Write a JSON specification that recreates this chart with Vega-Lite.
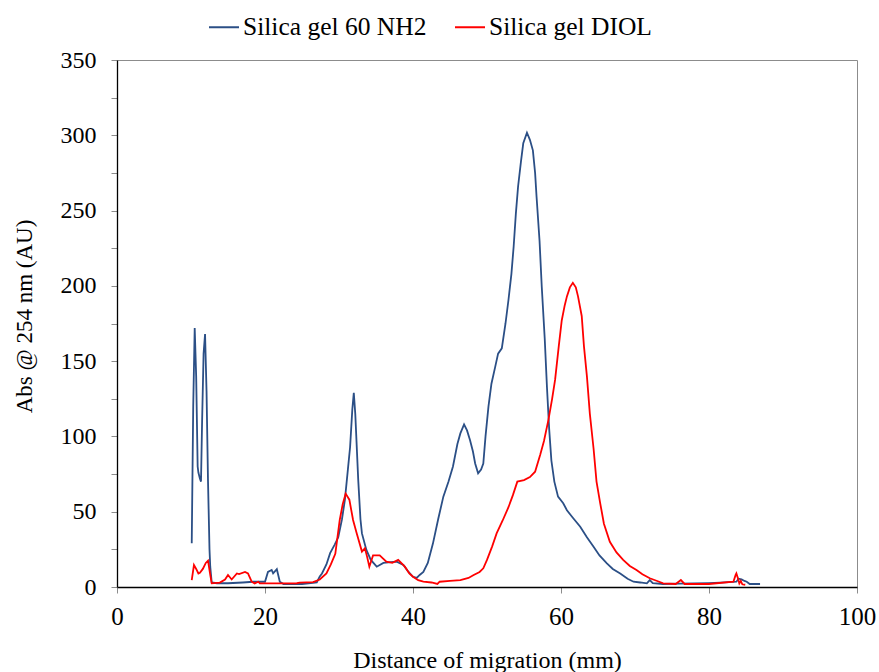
{
  "$schema": "https://vega.github.io/schema/vega-lite/v6.json",
  "autosize": {"type": "none"},
  "padding": {"left": 117, "top": 60, "right": 22, "bottom": 85},
  "width": 740,
  "height": 527,
  "background": "white",
  "config": {
    "view": {"stroke": "#8c8c8c", "strokeWidth": 1},
    "font": "Times New Roman, Liberation Serif, serif"
  },
  "datasets": {
    "nh2": [
      {"x":10.1,"y":29},{"x":10.3,"y":120},{"x":10.5,"y":172},{"x":10.7,"y":140},{"x":10.9,"y":80},{"x":11.0,"y":76},{"x":11.2,"y":72},{"x":11.35,"y":70},{"x":11.5,"y":110},{"x":11.7,"y":155},{"x":11.9,"y":168},{"x":12.1,"y":130},{"x":12.3,"y":70},{"x":12.5,"y":25},{"x":12.6,"y":13.5},{"x":12.8,"y":3},{"x":13.5,"y":2.5},{"x":15,"y":2.5},{"x":17,"y":3},{"x":18.4,"y":3.5},{"x":20,"y":3.5},{"x":20.4,"y":10},{"x":20.9,"y":11.3},{"x":21.1,"y":9},{"x":21.6,"y":11.8},{"x":22,"y":3.5},{"x":22.5,"y":2},{"x":25,"y":2},{"x":27,"y":3},{"x":27.4,"y":7},{"x":27.7,"y":9},{"x":28.3,"y":15},{"x":28.8,"y":22.5},{"x":29.4,"y":28},{"x":29.9,"y":33},{"x":30.4,"y":45},{"x":30.8,"y":58},{"x":31.2,"y":78},{"x":31.5,"y":93},{"x":31.8,"y":118},{"x":32.0,"y":129},{"x":32.2,"y":115},{"x":32.6,"y":71},{"x":32.9,"y":45},{"x":33.1,"y":35.6},{"x":33.7,"y":24.6},{"x":34.3,"y":18},{"x":35.1,"y":13.5},{"x":36.0,"y":16},{"x":37,"y":16.5},{"x":37.8,"y":16.8},{"x":38.7,"y":14.6},{"x":39.4,"y":10},{"x":40,"y":6.8},{"x":40.5,"y":6},{"x":40.9,"y":8},{"x":41.4,"y":10},{"x":42.0,"y":16},{"x":42.7,"y":29},{"x":43.4,"y":45},{"x":44.1,"y":60},{"x":44.8,"y":70},{"x":45.4,"y":80},{"x":46.0,"y":95},{"x":46.4,"y":102},{"x":46.9,"y":108},{"x":47.3,"y":104},{"x":47.7,"y":97.6},{"x":48.1,"y":90},{"x":48.4,"y":82},{"x":48.8,"y":75.5},{"x":49.2,"y":78},{"x":49.5,"y":82},{"x":49.8,"y":100},{"x":50.2,"y":120},{"x":50.6,"y":135},{"x":51.1,"y":146},{"x":51.5,"y":155},{"x":52.0,"y":158.5},{"x":52.5,"y":175},{"x":52.9,"y":190.6},{"x":53.3,"y":208},{"x":53.6,"y":226},{"x":53.9,"y":248},{"x":54.2,"y":266},{"x":54.6,"y":283},{"x":54.9,"y":294.7},{"x":55.4,"y":301.7},{"x":55.8,"y":297},{"x":56.2,"y":290},{"x":56.5,"y":275},{"x":56.7,"y":259},{"x":57.1,"y":230},{"x":57.4,"y":199.4},{"x":57.8,"y":165},{"x":58.1,"y":133},{"x":58.4,"y":105},{"x":58.7,"y":84},{"x":59.1,"y":70},{"x":59.6,"y":60},{"x":60.3,"y":55.6},{"x":60.8,"y":51},{"x":61.6,"y":46},{"x":62.6,"y":40},{"x":63.5,"y":33},{"x":64.4,"y":26.8},{"x":65.2,"y":21},{"x":66.2,"y":15.7},{"x":67,"y":12},{"x":68,"y":9},{"x":69,"y":5.5},{"x":69.8,"y":3.5},{"x":70.7,"y":3},{"x":71.6,"y":2.4},{"x":72,"y":4.6},{"x":72.4,"y":2.5},{"x":73.8,"y":2},{"x":76,"y":2.2},{"x":80,"y":2.6},{"x":81.5,"y":2.9},{"x":83.7,"y":3.5},{"x":84.0,"y":5.5},{"x":84.4,"y":5},{"x":84.8,"y":4},{"x":85.1,"y":3.5},{"x":85.5,"y":2},{"x":86.9,"y":2}
    ],
    "diol": [
      {"x":10.1,"y":4.6},{"x":10.4,"y":14.6},{"x":10.7,"y":12},{"x":11.0,"y":9},{"x":11.2,"y":9.5},{"x":11.6,"y":12},{"x":12.0,"y":16},{"x":12.3,"y":17.5},{"x":12.6,"y":8},{"x":12.8,"y":2.4},{"x":13.9,"y":2.9},{"x":14.6,"y":5},{"x":15.0,"y":8},{"x":15.5,"y":5},{"x":16.2,"y":9},{"x":16.5,"y":8.6},{"x":17.3,"y":10},{"x":17.7,"y":9},{"x":18.2,"y":3.5},{"x":18.6,"y":2.4},{"x":19.1,"y":3.5},{"x":19.3,"y":2.4},{"x":22,"y":2.4},{"x":24.3,"y":2.5},{"x":24.7,"y":2.9},{"x":26.5,"y":3.3},{"x":27.4,"y":5},{"x":28.3,"y":9},{"x":28.9,"y":15},{"x":29.5,"y":22},{"x":30.1,"y":44.5},{"x":30.5,"y":55},{"x":30.9,"y":62},{"x":31.4,"y":58},{"x":31.9,"y":44.5},{"x":32.4,"y":35.6},{"x":33.1,"y":23.5},{"x":33.5,"y":25.7},{"x":33.8,"y":20},{"x":34.1,"y":13.5},{"x":34.6,"y":21},{"x":35.5,"y":21},{"x":36.4,"y":16.8},{"x":37.2,"y":16},{"x":38.0,"y":18},{"x":38.9,"y":13.5},{"x":39.5,"y":9},{"x":40,"y":6.8},{"x":40.7,"y":4.5},{"x":41.4,"y":3.5},{"x":42.5,"y":3},{"x":43.3,"y":2},{"x":43.6,"y":3.5},{"x":45,"y":4},{"x":46.4,"y":4.6},{"x":47.5,"y":6},{"x":48.2,"y":8},{"x":49.0,"y":10},{"x":49.5,"y":12.4},{"x":50,"y":18},{"x":50.7,"y":27},{"x":51.3,"y":35.6},{"x":52.1,"y":44},{"x":52.9,"y":53},{"x":53.5,"y":61},{"x":54.1,"y":70},{"x":55.0,"y":71},{"x":55.8,"y":73},{"x":56.5,"y":76.6},{"x":57.2,"y":88},{"x":57.7,"y":97},{"x":58.3,"y":111},{"x":58.8,"y":125},{"x":59.2,"y":137.5},{"x":59.7,"y":160},{"x":60.1,"y":177},{"x":60.5,"y":187},{"x":60.8,"y":193},{"x":61.2,"y":199},{"x":61.6,"y":202},{"x":62.0,"y":199},{"x":62.3,"y":193},{"x":62.8,"y":180},{"x":63.1,"y":160},{"x":63.5,"y":140},{"x":63.9,"y":115},{"x":64.4,"y":92},{"x":64.8,"y":70},{"x":65.3,"y":55.6},{"x":65.8,"y":42},{"x":66.6,"y":30},{"x":67.5,"y":23},{"x":68.4,"y":18},{"x":69.3,"y":14},{"x":70.2,"y":11.3},{"x":71,"y":8.5},{"x":72,"y":5.8},{"x":73,"y":4},{"x":73.8,"y":2.4},{"x":75.5,"y":2},{"x":76.2,"y":4.6},{"x":76.7,"y":2},{"x":80,"y":2},{"x":83.3,"y":3.5},{"x":83.6,"y":8},{"x":83.7,"y":9},{"x":83.9,"y":6},{"x":84.1,"y":2.4},{"x":84.3,"y":4},{"x":84.5,"y":1.8},{"x":84.9,"y":1.5}
    ]
  },
  "data": {"name": "nh2"},
  "transform": [
    {"calculate": "'Silica gel 60 NH2'", "as": "s"}
  ],
  "layer": [
    {
      "mark": {"type": "line", "strokeWidth": 1.8, "interpolate": "linear"},
      "encoding": {
        "x": {"field": "x", "type": "quantitative"},
        "y": {"field": "y", "type": "quantitative"},
        "color": {"field": "s", "type": "nominal"}
      }
    },
    {
      "data": {"name": "diol"},
      "transform": [{"calculate": "'Silica gel DIOL'", "as": "s"}],
      "mark": {"type": "line", "strokeWidth": 1.8, "interpolate": "linear"},
      "encoding": {
        "x": {"field": "x", "type": "quantitative"},
        "y": {"field": "y", "type": "quantitative"},
        "color": {"field": "s", "type": "nominal"}
      }
    }
  ],
  "encoding": {
    "x": {
      "field": "x", "type": "quantitative",
      "scale": {"domain": [0, 100], "nice": false},
      "axis": {
        "title": "Distance of migration (mm)",
        "values": [0, 20, 40, 60, 80, 100],
        "grid": false,
        "labelFlush": false,
        "labelOverlap": false,
        "domainColor": "#000000", "domainWidth": 1.3,
        "tickColor": "#8c8c8c", "tickSize": 6,
        "labelFont": "Times New Roman, Liberation Serif, serif", "labelFontSize": 25, "labelColor": "#000000",
        "labelPadding": 11,
        "titleFont": "Times New Roman, Liberation Serif, serif", "titleFontSize": 24, "titleFontWeight": "normal", "titleColor": "#000000",
        "titlePadding": 19
      }
    },
    "y": {
      "field": "y", "type": "quantitative",
      "scale": {"domain": [0, 350], "nice": false},
      "axis": {
        "title": "Abs @ 254 nm (AU)",
        "values": [0, 25, 50, 75, 100, 125, 150, 175, 200, 225, 250, 275, 300, 325, 350],
        "labelExpr": "datum.value % 50 == 0 ? datum.label : ''",
        "grid": false,
        "domainColor": "#000000", "domainWidth": 1.3,
        "tickColor": "#8c8c8c", "tickSize": 6,
        "labelFont": "Times New Roman, Liberation Serif, serif", "labelFontSize": 24, "labelColor": "#000000",
        "labelPadding": 15,
        "titleFont": "Times New Roman, Liberation Serif, serif", "titleFontSize": 23, "titleFontWeight": "normal", "titleColor": "#000000",
        "titlePadding": 24,
        "titleY": 256
      }
    },
    "color": {
      "field": "s", "type": "nominal",
      "scale": {"domain": ["Silica gel 60 NH2", "Silica gel DIOL"], "range": ["#2B4F86", "#FF0000"]},
      "legend": {
        "title": null,
        "orient": "none",
        "legendX": 91,
        "legendY": -49,
        "direction": "horizontal",
        "symbolType": "stroke",
        "symbolSize": 900,
        "symbolStrokeWidth": 2,
        "labelFont": "Times New Roman, Liberation Serif, serif",
        "labelFontSize": 25.5,
        "labelLimit": 400,
        "labelColor": "#000000",
        "labelOffset": 3,
        "columnPadding": 24,
        "padding": 0
      }
    }
  }
}
